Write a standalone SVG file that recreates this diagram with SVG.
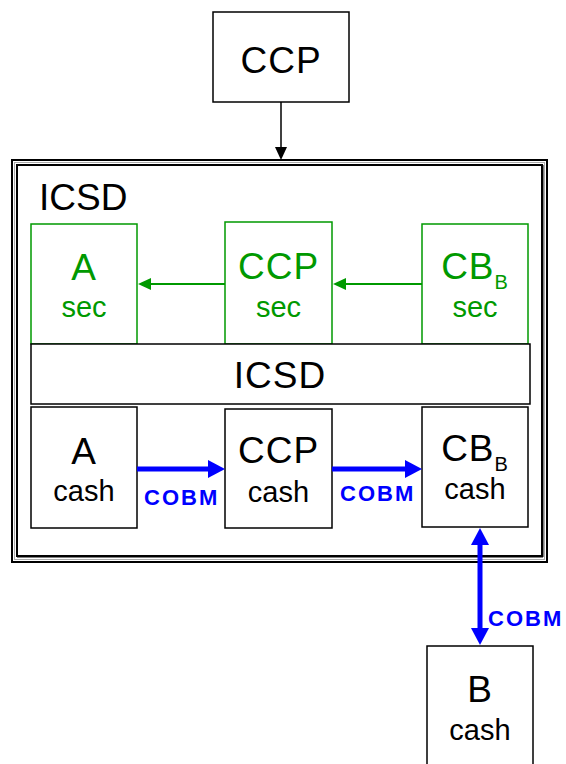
<svg xmlns="http://www.w3.org/2000/svg" width="566" height="764" viewBox="0 0 566 764">
<style>
.box{fill:#fff;stroke:#000;stroke-width:1.5}
.gbox{fill:#fff;stroke:#009900;stroke-width:1.5}
.big{font-family:"Liberation Sans",Arial,sans-serif;font-size:37px;fill:#000;text-anchor:middle;letter-spacing:1px}
.small{font-family:"Liberation Sans",Arial,sans-serif;font-size:29px;fill:#000;text-anchor:middle}
.g{fill:#009900}
.lbl{font-family:"Liberation Sans",Arial,sans-serif;font-size:22px;font-weight:bold;fill:#0000ff;letter-spacing:2px}
</style>
<g id="icsd-frame">
<rect x="12" y="160" width="535" height="402" fill="#fff" stroke="#000" stroke-width="2"/>
<rect x="14.5" y="162.5" width="530" height="397" fill="none" stroke="#aaa" stroke-width="1"/>
<rect x="17" y="165" width="525" height="391" fill="none" stroke="#000" stroke-width="2"/>
<line x1="542.5" y1="165" x2="542.5" y2="557" stroke="#000" stroke-width="2"/>
<line x1="17" y1="556.5" x2="543" y2="556.5" stroke="#000" stroke-width="2"/>
<text class="big" x="39" y="210" style="text-anchor:start;letter-spacing:0">ICSD</text>
</g>
<g id="ccp-top">
<rect class="box" x="213" y="12" width="136" height="90"/>
<text class="big" x="281" y="73">CCP</text>
</g>
<g id="a-sec">
<rect class="gbox" x="31" y="224" width="106" height="120"/>
<text class="big g" x="84" y="280">A</text>
<text class="small g" x="84" y="317">sec</text>
</g>
<g id="ccp-sec">
<rect class="gbox" x="225" y="222" width="107" height="122"/>
<text class="big g" x="278.5" y="279">CCP</text>
<text class="small g" x="278.5" y="317">sec</text>
</g>
<g id="cbb-sec">
<rect class="gbox" x="422" y="224" width="106" height="120"/>
<text class="big g" x="475" y="279">CB<tspan font-size="20" dy="10">B</tspan></text>
<text class="small g" x="475" y="317">sec</text>
</g>
<g id="icsd-bar">
<rect class="box" x="31" y="344" width="499" height="60"/>
<text class="big" x="280" y="388">ICSD</text>
</g>
<g id="a-cash">
<rect class="box" x="31" y="407" width="106" height="121"/>
<text class="big" x="84" y="464">A</text>
<text class="small" x="84" y="501">cash</text>
</g>
<g id="ccp-cash">
<rect class="box" x="225" y="409" width="107" height="119"/>
<text class="big" x="278.5" y="463">CCP</text>
<text class="small" x="278.5" y="502">cash</text>
</g>
<g id="cbb-cash">
<rect class="box" x="422" y="407" width="106" height="120"/>
<text class="big" x="475" y="461">CB<tspan font-size="20" dy="10">B</tspan></text>
<text class="small" x="475" y="499">cash</text>
</g>
<g id="b-cash">
<rect class="box" x="427" y="646" width="106" height="130"/>
<text class="big" x="480" y="702">B</text>
<text class="small" x="480" y="740">cash</text>
</g>
<g id="connectors">
<line x1="281" y1="102" x2="281" y2="148" stroke="#000" stroke-width="1.5"/>
<polygon points="275,147 287,147 281,160" fill="#000"/>
<line x1="225" y1="284" x2="150" y2="284" stroke="#009900" stroke-width="2"/>
<polygon points="138,284 151,278 151,290" fill="#009900"/>
<line x1="422" y1="284" x2="345" y2="284" stroke="#009900" stroke-width="2"/>
<polygon points="333,284 346,278 346,290" fill="#009900"/>
<line x1="137" y1="469" x2="209" y2="469" stroke="#0000ff" stroke-width="5"/>
<polygon points="225,469 208,460 208,478" fill="#0000ff"/>
<line x1="332" y1="469" x2="406" y2="469" stroke="#0000ff" stroke-width="5"/>
<polygon points="422,469 405,460 405,478" fill="#0000ff"/>
<line x1="480" y1="544" x2="480" y2="629" stroke="#0000ff" stroke-width="5"/>
<polygon points="480,528 471,545 489,545" fill="#0000ff"/>
<polygon points="480,645 471,628 489,628" fill="#0000ff"/>
<text class="lbl" x="144" y="505">COBM</text>
<text class="lbl" x="340" y="501">COBM</text>
<text class="lbl" x="488" y="626">COBM</text>
</g>
</svg>
